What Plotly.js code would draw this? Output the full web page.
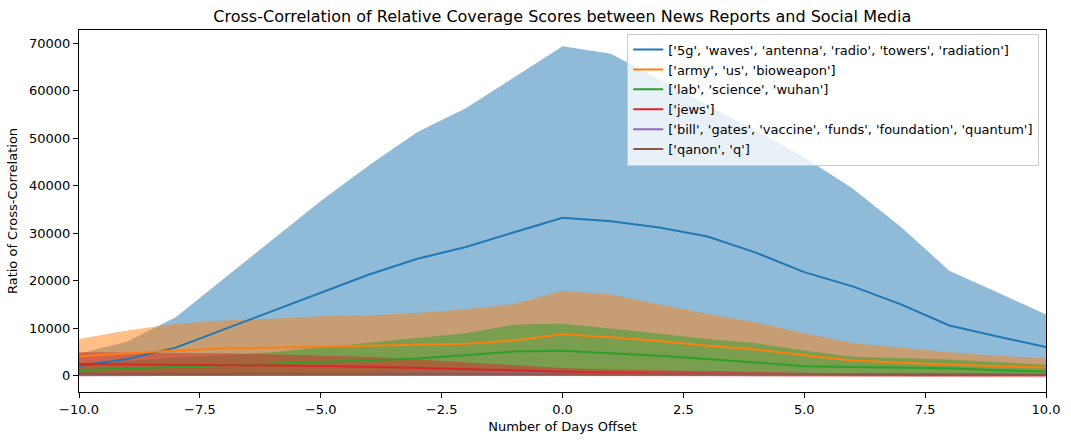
<!DOCTYPE html>
<html>
<head>
<meta charset="utf-8">
<script src="https://cdn.plot.ly/plotly-3.0.1.min.js"></script>
<style>
  html, body { margin: 0; padding: 0; background: #ffffff; }
  #chart { width: 1071px; height: 442px; }
</style>
</head>
<body>
<div id="chart"></div>
<script>
// ---- data ----
const days = [-10, -9, -8, -7, -6, -5, -4, -3, -2, -1, 0, 1, 2, 3, 4, 5, 6, 7, 8, 9, 10];

const seriesNames = [
  "['5g', 'waves', 'antenna', 'radio', 'towers', 'radiation']",
  "['army', 'us', 'bioweapon']",
  "['lab', 'science', 'wuhan']",
  "['jews']",
  "['bill', 'gates', 'vaccine', 'funds', 'foundation', 'quantum']",
  "['qanon', 'q']"
];

// 5g
const mean5g  = [2000, 3500, 5900, 9750, 13600, 17450, 21300, 24600, 27100, 30200, 33250, 32500, 31200, 29300, 25900, 21800, 18800, 15000, 10550, 8250, 6000];
const upper5g = [4600, 7200, 12300, 20400, 28700, 36800, 44300, 51300, 56300, 62800, 69370, 67800, 62400, 57000, 51600, 46000, 39400, 31300, 22100, 17500, 12900];
const lower5g = [100, 100, 100, 150, 150, 150, 200, 200, 200, 200, 200, 200, 200, 200, 150, 150, 150, 100, 100, 100, 100];

// army
const meanArmy  = [4100, 4700, 5300, 5700, 5900, 6100, 6250, 6400, 6700, 7400, 8700, 8100, 7300, 6300, 5500, 4300, 3200, 2700, 2250, 1950, 1700];
const upperArmy = [7700, 9500, 10900, 11600, 12000, 12500, 12700, 13200, 14000, 15100, 17900, 17100, 15000, 13000, 11200, 8900, 6800, 5800, 4900, 4200, 3600];
const lowerArmy = [300, 300, 300, 300, 300, 300, 300, 300, 300, 300, 300, 300, 300, 300, 250, 250, 200, 200, 150, 150, 100];

// lab
const meanLab  = [1150, 1500, 1900, 2200, 2500, 2900, 3200, 3600, 4300, 5100, 5250, 4800, 4200, 3500, 2700, 2000, 1800, 1700, 1550, 1150, 850];
const upperLab = [2600, 3100, 3800, 4300, 4900, 5900, 6900, 7800, 8900, 10700, 10900, 9900, 8800, 7700, 6800, 5300, 4000, 3700, 3400, 2800, 2300];
const lowerLab = [100, 150, 150, 200, 200, 250, 250, 300, 300, 350, 350, 350, 350, 350, 350, 350, 350, 350, 350, 300, 300];

// jews
const meanJews  = [2450, 2400, 2350, 2300, 2200, 2050, 1850, 1600, 1350, 1050, 800, 620, 500, 420, 360, 310, 260, 220, 190, 160, 140];
const upperJews = [4900, 4850, 4800, 4700, 4500, 4200, 3900, 3400, 2800, 2200, 1600, 1300, 1100, 900, 750, 620, 520, 460, 420, 380, 340];
const lowerJews = [0, 0, 0, 0, 0, 0, 0, 0, 0, 0, -50, -80, -100, -130, -160, -190, -220, -250, -280, -310, -340];

// bill gates
const meanGates  = [100, 120, 150, 180, 200, 250, 300, 350, 380, 400, 420, 400, 380, 350, 320, 300, 260, 220, 200, 170, 150];
const upperGates = [220, 250, 300, 350, 400, 480, 560, 650, 720, 760, 800, 760, 720, 660, 600, 560, 500, 430, 390, 340, 300];
const lowerGates = [0, 0, 0, 10, 10, 20, 30, 40, 40, 50, 50, 50, 40, 40, 40, 30, 20, 10, 10, 0, 0];

// qanon
const meanQ  = [300, 310, 320, 330, 330, 320, 310, 300, 290, 280, 270, 260, 250, 240, 230, 220, 210, 200, 190, 180, 170];
const upperQ = [650, 660, 680, 690, 690, 680, 660, 640, 620, 600, 580, 560, 540, 520, 500, 480, 460, 440, 420, 400, 380];
const lowerQ = [20, 20, 20, 20, 20, 20, 20, 20, 20, 20, 20, 20, 20, 20, 20, 20, 20, 20, 20, 20, 20];

const xTicks = [-10, -7.5, -5, -2.5, 0, 2.5, 5, 7.5, 10];
const yTicks = [0, 10000, 20000, 30000, 40000, 50000, 60000, 70000];

// ---- build traces ----
const colors = ['#1f77b4', '#ff7f0e', '#2ca02c', '#d62728', '#9467bd', '#8c564b'];
const fillColors = ['rgba(31,119,180,0.5)', 'rgba(255,127,14,0.5)', 'rgba(44,160,44,0.5)',
                    'rgba(214,39,40,0.5)', 'rgba(148,103,189,0.5)', 'rgba(140,86,75,0.5)'];
const means  = [mean5g, meanArmy, meanLab, meanJews, meanGates, meanQ];
const uppers = [upper5g, upperArmy, upperLab, upperJews, upperGates, upperQ];
const lowers = [lower5g, lowerArmy, lowerLab, lowerJews, lowerGates, lowerQ];

const traces = [];
for (let i = 0; i < means.length; i++) {
  traces.push({
    x: days, y: lowers[i], type: 'scatter', mode: 'lines',
    line: {width: 0, color: fillColors[i]}, showlegend: false, hoverinfo: 'skip'
  });
  traces.push({
    x: days, y: uppers[i], type: 'scatter', mode: 'lines',
    line: {width: 0, color: fillColors[i]}, fill: 'tonexty', fillcolor: fillColors[i],
    showlegend: false, hoverinfo: 'skip'
  });
}
for (let i = 0; i < means.length; i++) {
  traces.push({
    x: days, y: means[i], type: 'scatter', mode: 'lines', name: seriesNames[i],
    line: {width: 2, color: colors[i]}
  });
}

const font = {family: 'DejaVu Sans, sans-serif', size: 13, color: '#000000'};

const layout = {
  width: 1071, height: 442,
  margin: {l: 79, r: 25, t: 30, b: 50, pad: 0},
  paper_bgcolor: '#ffffff', plot_bgcolor: '#ffffff',
  font: font,
  title: {
    text: 'Cross-Correlation of Relative Coverage Scores between News Reports and Social Media',
    font: {family: 'DejaVu Sans, sans-serif', size: 16, color: '#000000'},
    x: 0.525, xanchor: 'center', y: 0.962, yanchor: 'middle'
  },
  xaxis: {
    range: [-10, 10], tickvals: xTicks, tickformat: '.1f',
    showgrid: false, zeroline: false,
    showline: true, linecolor: '#000000', linewidth: 1, mirror: true,
    ticks: 'outside', ticklen: 5, tickwidth: 1, tickcolor: '#000000',
    tickfont: font,
    title: {text: 'Number of Days Offset', font: font, standoff: 6}
  },
  yaxis: {
    range: [-3450, 72800], tickvals: yTicks, tickformat: 'd',
    showgrid: false, zeroline: false,
    showline: true, linecolor: '#000000', linewidth: 1, mirror: true,
    ticks: 'outside', ticklen: 5, tickwidth: 1, tickcolor: '#000000',
    tickfont: font,
    title: {text: 'Ratio of Cross-Correlation', font: font, standoff: 8}
  },
  legend: {
    x: 0.993, xanchor: 'right', y: 0.99, yanchor: 'top',
    traceorder: 'normal',
    bgcolor: 'rgba(255,255,255,0.8)', bordercolor: '#cccccc', borderwidth: 1,
    font: font, tracegroupgap: 0
  },
  showlegend: true
};

Plotly.newPlot('chart', traces, layout, {staticPlot: true, displayModeBar: false});
</script>
</body>
</html>
